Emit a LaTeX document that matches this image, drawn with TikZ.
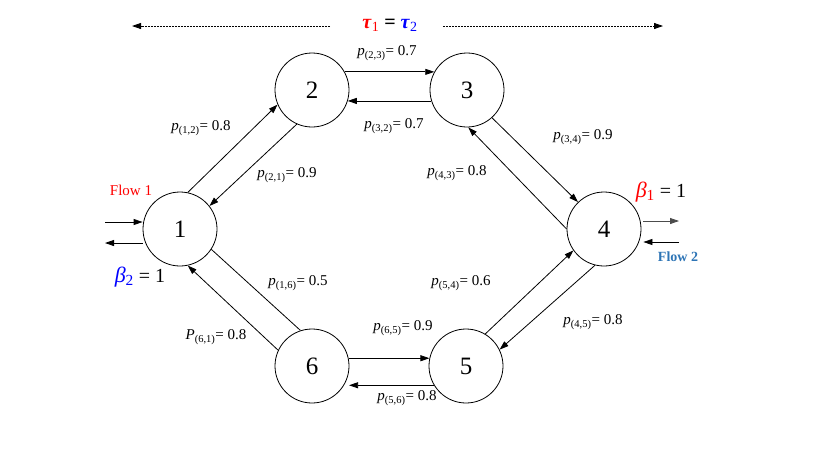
\documentclass[tikz,border=0pt]{standalone}
\usepackage{fontspec}
\setmainfont{Liberation Serif}
\usetikzlibrary{arrows.meta}
\definecolor{flowblue}{RGB}{46,117,182}
\definecolor{taured}{RGB}{255,0,0}
\definecolor{taublue}{RGB}{0,0,255}
\newcommand\pp[3]{\textit{#1}\textsubscript{(#2)}= #3}
\begin{document}
\begin{tikzpicture}[x=1pt,y=-1pt,
  state/.style={circle,draw,line width=0.8pt,minimum size=74pt,inner sep=0pt,font=\fontsize{25}{25}\selectfont},
  arr/.style={line width=0.8pt,-{Triangle[length=9pt,width=6pt]}},
  plain/.style={line width=0.8pt},
  lab/.style={inner sep=0pt,font=\fontsize{15}{17}\selectfont},
  dashline/.style={line width=0.8pt,dash pattern=on 2pt off 1pt,-{Triangle[length=9pt,width=6pt]}}]
\useasboundingbox (0,0) rectangle (830,467);

% nodes
\node[state] (n1) at (180,229) {1};
\node[state] (n2) at (312,90) {2};
\node[state] (n3) at (467,90) {3};
\node[state] (n4) at (604,229) {4};
\node[state] (n5) at (466,366) {5};
\node[state] (n6) at (312,366) {6};

% edges
\draw[arr] (n1.78) -- (n2.203);
\draw[arr] (n2.246) -- (n1.38);
\draw[arr] (n2.29) -- (n3.151);
\draw[arr] (n3.197) -- (n2.343);
\draw[arr] (n3.312) -- (n4.134);
\draw[arr] (n4.180) -- (n3.272);
\draw[arr] (n5.59) -- (n4.215);
\draw[arr] (n4.256) -- (n5.26);
\draw[arr] (n6.12) -- (n5.168);
\draw[arr,shorten >=5pt] (n5.211) -- (n6.329);
\draw[arr] (n6.155) -- (n1.282);
\draw[plain] (n1.327) -- (n6.108);

% edge labels
\node[lab] (l23) at (387,53) {\pp{p}{2,3}{0.7}};
\node[lab] (l32) at (394,126) {\pp{p}{3,2}{0.7}};
\node[lab] (l12) at (201,128) {\pp{p}{1,2}{0.8}};
\node[lab] (l21) at (287,175) {\pp{p}{2,1}{0.9}};
\node[lab] (l34) at (583,137) {\pp{p}{3,4}{0.9}};
\node[lab] (l43) at (457,173) {\pp{p}{4,3}{0.8}};
\node[lab] (l54) at (461,283) {\pp{p}{5,4}{0.6}};
\node[lab] (l45) at (593,322) {\pp{p}{4,5}{0.8}};
\node[lab] (l16) at (298,283) {\pp{p}{1,6}{0.5}};
\node[lab] (l61) at (216,337) {\pp{P}{6,1}{0.8}};
\node[lab] (l65) at (403,328) {\pp{p}{6,5}{0.9}};
\node[lab] (l56) at (407,398) {\pp{p}{5,6}{0.8}};

% flow 1
\coordinate (f1a) at (105,222);
\coordinate (f1b) at (105,243);
\draw[arr] (f1a) -- (f1a -| n1.west);
\draw[arr] (f1b -| n1.west) -- (f1b);
\node[inner sep=0pt,text=taured,font=\fontsize{15}{17}\selectfont] (flow1) at (131,190) {Flow 1};
\node[inner sep=0pt,font=\fontsize{20}{22}\selectfont] (beta2) at (140,277)
  {\textcolor{taublue}{\fontsize{22}{22}\selectfont\textit{β}\textsubscript{2}} = 1};

% flow 2
\coordinate (f2a) at (679,221);
\coordinate (f2b) at (679,242);
\draw[arr,draw=black!70] (f2a -| n4.east) ++(2,0) -- (f2a);
\draw[arr] (f2b) -- ([xshift=2pt]f2b -| n4.east);
\node[inner sep=0pt,text=flowblue,font=\bfseries\fontsize{14}{16}\selectfont] (flow2) at (678,257) {Flow 2};
\node[inner sep=0pt,font=\fontsize{20}{22}\selectfont] (beta1) at (661,192)
  {\textcolor{taured}{\fontsize{22}{22}\selectfont\textit{β}\textsubscript{1}} = 1};

% tau
\node[inner sep=0pt,font=\bfseries\fontsize{20}{22}\selectfont] (tau) at (390,25)
  {\textcolor{taured}{\textit{τ}\textsubscript{\mdseries 1}} = \textcolor{taublue}{\textit{τ}\textsubscript{\mdseries 2}}};
\coordinate (ta) at (330,26);
\coordinate (tb) at (132,26);
\coordinate (tc) at (443,26);
\coordinate (td) at (663,26);
\draw[dashline] (ta) -- (tb);
\draw[dashline] (tc) -- (td);
\end{tikzpicture}
\end{document}
